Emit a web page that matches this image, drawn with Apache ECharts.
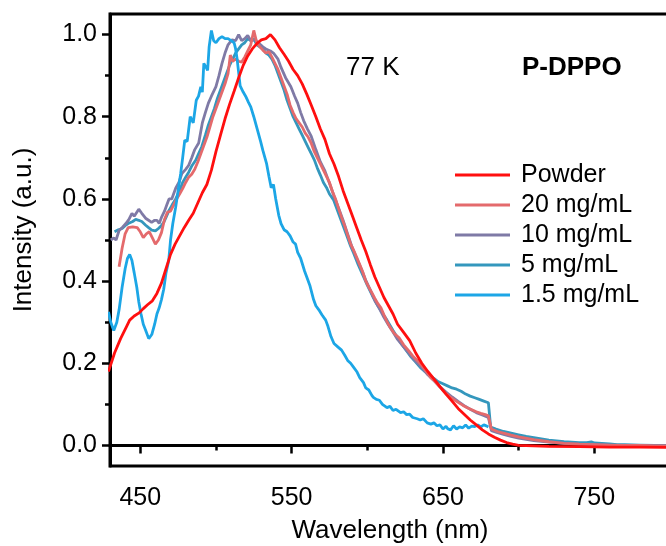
<!DOCTYPE html>
<html>
<head>
<meta charset="utf-8">
<script src="https://cdn.jsdelivr.net/npm/echarts@6/dist/echarts.min.js"></script>
<style>html,body{margin:0;padding:0;background:#fff}#c{width:666px;height:546px}</style>
</head>
<body>
<div id="c"></div>
<script>
// ---------------- DATA ----------------
const seriesNames = ['Powder', '20 mg/mL', '10 mg/mL', '5 mg/mL', '1.5 mg/mL'];
const xTickLabels = [450, 550, 650, 750];
const xMinorTicks = [500, 600, 700, 800];
const yTickLabels = [0, 0.2, 0.4, 0.6, 0.8, 1.0];
const yMinorTicks = [0.1, 0.3, 0.5, 0.7, 0.9];

const powderX = [429,433,437,441,443,446,449,452,455,458,461,464,467,470,473,476,479,482,485,488,491,494,497,500,503,506,509,512,515,518,521,524,527,530,533,536,539,542,545,548,551,554,557,560,563,566,569,572,575,578,581,584,587,590,593,596,599,602,605,608,611,614,617,620,624,628,632,636,640,644,648,652,656,660,664,668,672,676,680,684,688,692,696,700,720,740,760,780,800];
const powderY = [0.18,0.225,0.26,0.29,0.305,0.315,0.322,0.333,0.343,0.352,0.37,0.395,0.43,0.465,0.49,0.51,0.53,0.548,0.565,0.59,0.615,0.635,0.67,0.715,0.755,0.795,0.83,0.862,0.895,0.925,0.948,0.965,0.978,0.987,0.99,1.0,0.987,0.968,0.952,0.935,0.915,0.9,0.88,0.855,0.828,0.8,0.77,0.745,0.71,0.685,0.655,0.62,0.59,0.56,0.53,0.5,0.472,0.44,0.41,0.385,0.36,0.34,0.32,0.295,0.275,0.255,0.225,0.2,0.18,0.162,0.143,0.125,0.108,0.09,0.076,0.062,0.05,0.038,0.028,0.02,0.013,0.007,0.003,0.0,-0.002,-0.003,-0.004,-0.004,-0.005];

const c20X = [436,438,440,442,445,448,450,452,454,456,458,460,462,464,466,468,470,472,474,476,478,480,482,484,486,488,490,492,494,496,498,500,502,504,506,508,509.5,511,513,515,517,519,521,523,525,527,529,531,533,535,537,539,541,543,545,547,549,551,553,555,557,559,561,563,565,567,569,571,573,575,577,579,581,583,585,587,589,591,593,595,597,599,601,603,605,607,609,611,613,615,618,621,624,627,630,633,636,639,642,645,648,651,654,657,660,663,666,669,672,675,678,680,681,682,686,690,695,700,710,720,730,740,750,760,770,780,790,800];
const c20Y = [0.435,0.48,0.515,0.53,0.532,0.53,0.52,0.506,0.515,0.52,0.505,0.49,0.5,0.518,0.55,0.568,0.57,0.585,0.6,0.612,0.625,0.64,0.653,0.66,0.672,0.69,0.71,0.73,0.75,0.775,0.8,0.82,0.84,0.86,0.88,0.905,0.95,0.935,0.94,0.935,0.933,0.945,0.96,0.975,1.01,0.98,0.97,0.962,0.955,0.958,0.945,0.93,0.915,0.895,0.875,0.855,0.828,0.81,0.795,0.785,0.775,0.76,0.75,0.735,0.715,0.7,0.685,0.67,0.655,0.64,0.618,0.6,0.577,0.555,0.535,0.512,0.49,0.475,0.458,0.44,0.422,0.4,0.385,0.372,0.358,0.345,0.335,0.318,0.302,0.288,0.272,0.262,0.245,0.232,0.218,0.207,0.195,0.18,0.165,0.155,0.142,0.13,0.12,0.112,0.105,0.098,0.092,0.087,0.082,0.078,0.075,0.072,0.07,0.04,0.034,0.03,0.025,0.021,0.014,0.009,0.005,0.003,0.002,0.001,0.0,0.0,-0.001,-0.001];

const c10X = [430.5,432.5,434,436,438,440.5,442.5,444.5,446,447,449,451,453.5,455.5,457.5,459.5,461,462.5,464,466,467.5,469,470.8,473.4,475.5,477.5,480,482,484,486,488.6,491,493,495,497,500,502,504,506,508,510.5,513,515,517,519,521,523,526,528,531,533,536,538,541,543,546,549.5,552,554,556,558,560.5,563,566,569,572,575,578,581,584,587,590,593,596,599,602,605,608,611,614,617,620,624,628,632,636,640,644,648,652,656,660,664,668,672,676,680,681,682,686,690,695,700,710,720,730,740,750,760,780,800];
const c10Y = [0.5,0.505,0.5,0.523,0.53,0.54,0.55,0.565,0.558,0.56,0.575,0.565,0.553,0.548,0.543,0.548,0.548,0.54,0.555,0.57,0.585,0.6,0.6,0.626,0.64,0.662,0.672,0.682,0.7,0.72,0.736,0.785,0.81,0.833,0.85,0.873,0.9,0.93,0.955,0.975,0.987,0.985,1.0,0.985,0.99,0.998,0.985,0.987,0.98,0.97,0.965,0.96,0.955,0.94,0.92,0.895,0.873,0.85,0.833,0.81,0.79,0.77,0.752,0.72,0.69,0.668,0.638,0.607,0.578,0.548,0.515,0.482,0.455,0.43,0.402,0.378,0.352,0.333,0.312,0.293,0.276,0.258,0.24,0.222,0.205,0.19,0.172,0.158,0.143,0.13,0.118,0.107,0.097,0.088,0.08,0.074,0.068,0.067,0.036,0.031,0.027,0.022,0.018,0.012,0.008,0.005,0.003,0.002,0.001,0.0,-0.001];

const c5X = [433,435.5,438,440,442,445,447,449,451,453.6,455.5,457.6,460,462,464,465.5,467,469,471,473.4,476,478,480,482,484,486.6,488.5,490.6,493,495,497,499,501,503,505,507,509,511,513,515,517,519,521,523,525,527,529,531,533,535,537,539,541,543,545,547,549,551,553,555,557,559,561,563,565,567,569,571,573,575,577.8,580,583,586,589,591,594,597,600,604,607,610,613,617,620,623,626,629,632,635,638,641,644,647,650,653,656,659,662,665,668,671,674,677,680,681,681.5,685,690,695,700,705,710,715,720,725,730,735,740,745,748,750,760,765,770,780,790,800];
const c5Y = [0.52,0.525,0.528,0.535,0.54,0.545,0.55,0.548,0.545,0.536,0.53,0.524,0.522,0.528,0.535,0.543,0.555,0.572,0.585,0.6,0.62,0.64,0.653,0.665,0.68,0.694,0.71,0.727,0.755,0.78,0.8,0.82,0.845,0.865,0.885,0.905,0.925,0.94,0.955,0.965,0.975,0.98,0.99,0.985,0.99,0.975,0.97,0.965,0.955,0.95,0.94,0.925,0.905,0.885,0.865,0.84,0.82,0.8,0.785,0.77,0.755,0.74,0.725,0.71,0.695,0.675,0.658,0.64,0.628,0.612,0.597,0.575,0.545,0.515,0.485,0.468,0.44,0.415,0.39,0.36,0.34,0.322,0.305,0.28,0.262,0.245,0.23,0.215,0.203,0.19,0.18,0.172,0.163,0.155,0.15,0.145,0.14,0.137,0.132,0.125,0.12,0.116,0.112,0.108,0.104,0.104,0.045,0.04,0.034,0.03,0.026,0.022,0.019,0.016,0.013,0.011,0.009,0.008,0.007,0.007,0.009,0.006,0.004,0.002,0.002,0.001,0.0,0.0];

const c15X = [429,430.5,432.5,434.5,436,438,440,441.5,443,444.5,446,447.7,449,450.5,452,453.6,455.6,457.6,459.5,461,462.5,464,465.5,467,468.8,470,471.5,473.4,475,476.7,478,479.4,481,483,485,487,488.5,490,491,492,493.5,494.5,495.5,497,498.5,500,502,504,506,508,510,512,513,514,516,518,519.6,521.5,523,525,527.5,529.5,531,533.5,535,536.5,538,539.5,541.5,543,545,547,549,551,552.6,554,556,558.6,560,562,564.5,566,568,570,572.5,574,576,578,580.5,583,585,587,589,591,593,595,597.5,599,601,603,604,606,608,610,613,615,617,619,622,624,626,628,630,633,635,637,639.6,642,644,646,648,650,652,653,655,657,659,661,663,665,667,669,671,673,675,677,679,680];
const c15Y = [0.325,0.3,0.28,0.3,0.33,0.385,0.43,0.455,0.465,0.45,0.42,0.385,0.35,0.32,0.295,0.28,0.26,0.27,0.295,0.32,0.335,0.355,0.38,0.42,0.45,0.5,0.54,0.58,0.62,0.662,0.7,0.743,0.74,0.8,0.785,0.84,0.85,0.873,0.86,0.93,0.92,0.913,0.97,1.01,0.985,0.98,0.99,0.995,0.99,0.99,0.985,0.98,0.965,0.94,0.875,0.86,0.85,0.835,0.824,0.8,0.767,0.74,0.718,0.685,0.655,0.627,0.635,0.6,0.56,0.54,0.525,0.52,0.51,0.495,0.49,0.47,0.455,0.424,0.41,0.39,0.355,0.34,0.33,0.318,0.305,0.29,0.265,0.248,0.24,0.232,0.22,0.207,0.2,0.19,0.18,0.165,0.153,0.14,0.135,0.122,0.117,0.112,0.11,0.1,0.092,0.095,0.085,0.088,0.08,0.082,0.075,0.076,0.068,0.065,0.062,0.065,0.055,0.052,0.055,0.048,0.05,0.04,0.047,0.041,0.038,0.048,0.04,0.045,0.043,0.05,0.042,0.047,0.046,0.05,0.045,0.05,0.047,0.045];

// ---------------- CHART ----------------
const FONT = 'Liberation Sans, Arial, sans-serif';
const zip = (xs, ys) => xs.map((x, i) => [x, ys[i]]);
const colors = ['#FF0F0F', '#E46A6C', '#7F7AA6', '#3497BD', '#1CA6E6'];
const seriesData = [zip(powderX, powderY), zip(c20X, c20Y), zip(c10X, c10Y), zip(c5X, c5Y), zip(c15X, c15Y)];
const zOrder = [6, 4, 3, 2, 5];

const chart = echarts.init(document.getElementById('c'), null, {renderer: 'canvas'});
const option = {
  animation: false,
  backgroundColor: '#fff',
  textStyle: {fontFamily: FONT},
  grid: {left: 110, right: -4, top: 14, bottom: 80, show: true, borderColor: '#000', borderWidth: 3,
    backgroundColor: 'transparent', containLabel: false, outerBoundsMode: 'none'},
  legend: {
    orient: 'vertical', left: 450, top: 155,
    itemWidth: 55, itemHeight: 3, itemGap: 0, icon: 'rect',
    data: seriesNames,
    textStyle: {fontSize: 25, color: '#000', fontFamily: FONT, lineHeight: 30, padding: [0, 0, 0, 6]}
  },
  xAxis: [{
    type: 'value', min: 430, max: 800, position: 'bottom',
    name: 'Wavelength (nm)', nameLocation: 'middle', nameGap: 52,
    nameTextStyle: {fontSize: 26, color: '#000', fontFamily: FONT},
    axisLine: {show: true, lineStyle: {color: '#000', width: 3}},
    axisTick: {show: true, customValues: xTickLabels, length: 8, lineStyle: {color: '#000', width: 2.5}},
    axisLabel: {customValues: xTickLabels, fontSize: 25, color: '#000', margin: 20, fontFamily: FONT},
    splitLine: {show: false}
  }, {
    type: 'value', min: 430, max: 800, position: 'bottom',
    axisLine: {show: false},
    axisTick: {show: true, customValues: xMinorTicks, length: 5, lineStyle: {color: '#000', width: 2.5}},
    axisLabel: {show: false},
    splitLine: {show: false}
  }],
  yAxis: [{
    type: 'value', min: -0.05, max: 1.05, position: 'left',
    name: 'Intensity (a.u.)', nameLocation: 'middle', nameGap: 73,
    nameTextStyle: {fontSize: 26, color: '#000', fontFamily: FONT, padding: [0, 0, 0, 20]},
    axisLine: {show: true, lineStyle: {color: '#000', width: 3}},
    axisTick: {show: true, customValues: yTickLabels, length: 8, lineStyle: {color: '#000', width: 2.5}},
    axisLabel: {customValues: yTickLabels, fontSize: 25, color: '#000', margin: 13, fontFamily: FONT,
      formatter: v => Number(v).toFixed(1)},
    splitLine: {show: false}
  }, {
    type: 'value', min: -0.05, max: 1.05, position: 'left',
    axisLine: {show: false},
    axisTick: {show: true, customValues: yMinorTicks, length: 5, lineStyle: {color: '#000', width: 2.5}},
    axisLabel: {show: false},
    splitLine: {show: false}
  }],
  graphic: [
    {type: 'text', left: 346, top: 55, style: {text: '77 K', font: '26px ' + FONT, fill: '#000'}},
    {type: 'text', left: 522, top: 55, style: {text: 'P-DPPO', font: 'bold 26px ' + FONT, fill: '#000'}}
  ],
  series: seriesNames.map((n, i) => ({
    name: n, type: 'line', xAxisIndex: 0, yAxisIndex: 0,
    data: seriesData[i], showSymbol: false, symbol: 'none', z: zOrder[i],
    color: colors[i],
    lineStyle: {color: colors[i], width: 2.8},
    itemStyle: {color: colors[i]}
  }))
};
chart.setOption(option);
</script>
</body>
</html>
